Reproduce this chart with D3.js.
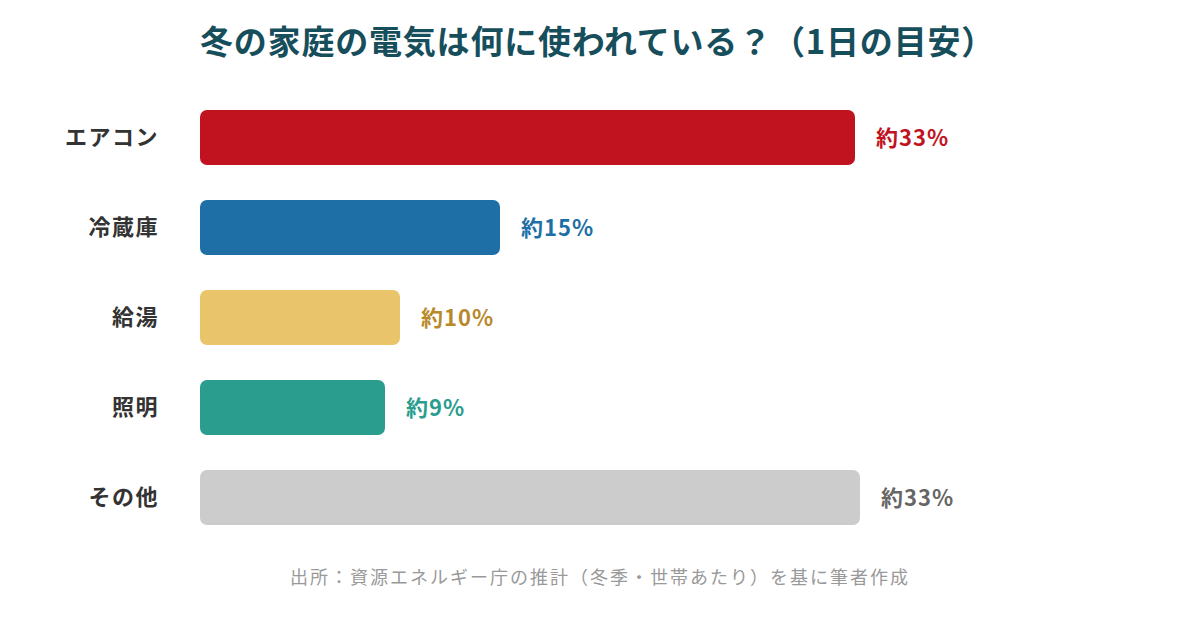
<!DOCTYPE html>
<html>
<head>
<meta charset="utf-8">
<script src="https://cdn.jsdelivr.net/npm/d3@7"></script>
<style>
  body { margin: 0; background: #fff; }
  svg text { font-family: "Noto Sans CJK JP", "Noto Sans", sans-serif; }
</style>
</head>
<body>
<div class="chart"></div>
<script>
// data
var categories = ["エアコン", "冷蔵庫", "給湯", "照明", "その他"];
var shares = [32.75, 15, 10, 9.25, 33];
var valueLabels = ["約33%", "約15%", "約10%", "約9%", "約33%"];
var barColors = ["#C1121F", "#1D6FA5", "#E9C46A", "#2A9D8F", "#CCCCCC"];
var labelColors = ["#C1121F", "#1D6FA5", "#B8892B", "#2A9D8F", "#666666"];

var title = "冬の家庭の電気は何に使われている？（1日の目安）";
var source = "出所：資源エネルギー庁の推計（冬季・世帯あたり）を基に筆者作成";

var width = 1200, height = 620;

var svg = d3.select(".chart").append("svg")
    .attr("width", width)
    .attr("height", height);

var x = d3.scaleLinear()
    .domain([0, 33])
    .range([200, 860]);

// step 90, bar 55
var y = d3.scaleBand()
    .domain(categories)
    .range([92.5, 542.5])
    .paddingInner(35 / 90)
    .paddingOuter(17.5 / 90);

svg.append("text")
    .attr("x", 200)
    .attr("y", 54)
    .attr("fill", "#174E5C")
    .style("font-size", "33px")
    .style("font-weight", "700")
    .style("letter-spacing", "0.8px")
    .text(title);

var rows = svg.selectAll(".row")
    .data(categories)
    .enter().append("g")
    .attr("class", "row");

rows.append("rect")
    .attr("x", x(0))
    .attr("y", function(d) { return y(d); })
    .attr("height", y.bandwidth())
    .attr("width", function(d, i) { return x(shares[i]) - x(0); })
    .attr("rx", 7)
    .attr("fill", function(d, i) { return barColors[i]; });

rows.append("text")
    .attr("x", 159)
    .attr("y", function(d) { return y(d) + y.bandwidth() / 2; })
    .attr("dy", "0.36em")
    .attr("text-anchor", "end")
    .attr("fill", "#333")
    .style("font-size", "22px")
    .style("font-weight", "700")
    .style("letter-spacing", "1.5px")
    .text(function(d) { return d; });

rows.append("text")
    .attr("x", function(d, i) { return x(shares[i]) + 21; })
    .attr("y", function(d) { return y(d) + y.bandwidth() / 2 + 1; })
    .attr("dy", "0.36em")
    .attr("fill", function(d, i) { return labelColors[i]; })
    .style("font-size", "22px")
    .style("font-weight", "700")
    .style("letter-spacing", "1px")
    .text(function(d, i) { return valueLabels[i]; });

svg.append("text")
    .attr("x", 600)
    .attr("y", 584)
    .attr("text-anchor", "middle")
    .attr("fill", "#999")
    .style("font-size", "18px")
    .style("letter-spacing", "2px")
    .text(source);
</script>
</body>
</html>
